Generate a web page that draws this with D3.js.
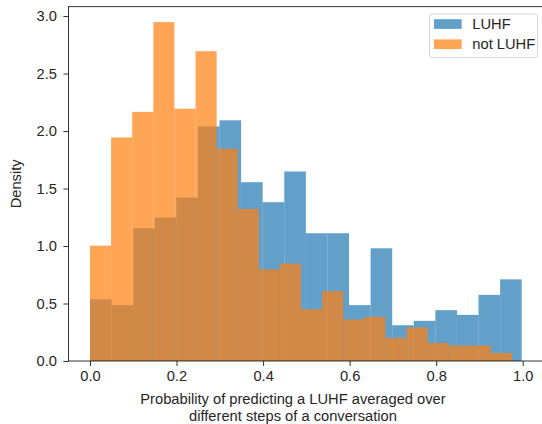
<!DOCTYPE html>
<html lang="en">
<head>
<meta charset="UTF-8">
<title>LUHF histogram</title>
<script src="https://d3js.org/d3.v7.min.js"></script>
<style>
  body { margin: 0; background: #fff; }
  svg { display: block; font-family: "Liberation Sans", Arial, sans-serif; }
</style>
</head>
<body>
<script>
// Density per bin (20 equal bins over each series' own range)
const seriesNames = ["LUHF", "not LUHF"];
const luhfRange = [0, 0.9977];
const luhfDensity = [0.535, 0.486, 1.154, 1.247, 1.421, 2.040, 2.093, 1.555, 1.381, 1.648,
                     1.111, 1.111, 0.486, 0.980, 0.311, 0.349, 0.442, 0.401, 0.575, 0.710];
const notLuhfRange = [0, 0.9754];
const notLuhfDensity = [1.003, 1.944, 2.166, 2.947, 2.194, 2.694, 1.846, 1.323, 0.797, 0.846,
                        0.451, 0.608, 0.361, 0.384, 0.201, 0.291, 0.157, 0.134, 0.134, 0.070];
const xTicks = [0, 0.2, 0.4, 0.6, 0.8, 1.0];
const yTicks = [0, 0.5, 1.0, 1.5, 2.0, 2.5, 3.0];
const colors = ["#1f77b4", "#ff7f0e"];

const W = 542, H = 424;
const FS = 14.7;
const x = d3.scaleLinear().domain([0, 1]).range([90, 522.7]);
const y = d3.scaleLinear().domain([0, 3]).range([361, 16]);
const xMin = -0.0499, xMax = 1.0476, yMax = 3.081;
const pLeft = x(xMin), pRight = x(xMax), pTop = y(yMax), pBottom = y(0);

const svg = d3.select("body").append("svg").attr("width", W).attr("height", H);

function bins(range, dens) {
  const w = (range[1] - range[0]) / dens.length;
  return dens.map((d, i) => ({ x0: range[0] + i * w, x1: range[0] + (i + 1) * w, d }));
}

const plot = svg.append("g");
[[luhfRange, luhfDensity], [notLuhfRange, notLuhfDensity]].forEach(([r, dens], k) => {
  plot.append("g").selectAll("rect")
    .data(bins(r, dens))
    .enter().append("rect")
    .attr("x", b => x(b.x0))
    .attr("width", b => x(b.x1) - x(b.x0))
    .attr("y", b => y(b.d))
    .attr("height", b => y(0) - y(b.d))
    .attr("fill", colors[k])
    .attr("fill-opacity", 0.7);
});

// spines
svg.append("rect")
  .attr("x", pLeft).attr("y", pTop)
  .attr("width", pRight - pLeft).attr("height", pBottom - pTop)
  .attr("fill", "none").attr("stroke", "#000").attr("stroke-width", 0.8);

// axes
const xAxis = svg.append("g")
  .attr("transform", `translate(0,${pBottom})`)
  .call(d3.axisBottom(x).tickValues(xTicks).tickFormat(d3.format(".1f")).tickSize(5).tickPadding(4.5));
const yAxis = svg.append("g")
  .attr("transform", `translate(${pLeft},0)`)
  .call(d3.axisLeft(y).tickValues(yTicks).tickFormat(d3.format(".1f")).tickSize(5).tickPadding(6.5));
[xAxis, yAxis].forEach(a => {
  a.select(".domain").remove();
  a.selectAll(".tick line").attr("stroke", "#000").attr("stroke-width", 0.8);
  a.selectAll(".tick text").attr("font-size", FS).attr("fill", "#262626")
    .attr("font-family", "Liberation Sans, Arial, sans-serif");
});

// labels
svg.append("text")
  .attr("x", 293).attr("y", 404)
  .attr("text-anchor", "middle").attr("font-size", FS).attr("fill", "#262626")
  .text("Probability of predicting a LUHF averaged over");
svg.append("text")
  .attr("x", 293).attr("y", 421)
  .attr("text-anchor", "middle").attr("font-size", FS).attr("fill", "#262626")
  .text("different steps of a conversation");
svg.append("text")
  .attr("transform", `translate(20.5,${(pTop + pBottom) / 2}) rotate(-90)`)
  .attr("text-anchor", "middle").attr("font-size", FS).attr("fill", "#262626")
  .text("Density");

// legend
const lg = svg.append("g");
lg.append("rect")
  .attr("x", 429.5).attr("y", 14).attr("width", 108).attr("height", 43.5)
  .attr("rx", 3).attr("fill", "#fff").attr("fill-opacity", 0.8)
  .attr("stroke", "#d6d6d6").attr("stroke-width", 1);
seriesNames.forEach((name, i) => {
  lg.append("rect")
    .attr("x", 434).attr("y", 19.2 + i * 20.2).attr("width", 27.7).attr("height", 9.7)
    .attr("fill", colors[i]).attr("fill-opacity", 0.7);
  lg.append("text")
    .attr("x", 472.3).attr("y", 28.6 + i * 20.2)
    .attr("font-size", FS).attr("fill", "#262626")
    .text(name);
});
</script>
</body>
</html>
